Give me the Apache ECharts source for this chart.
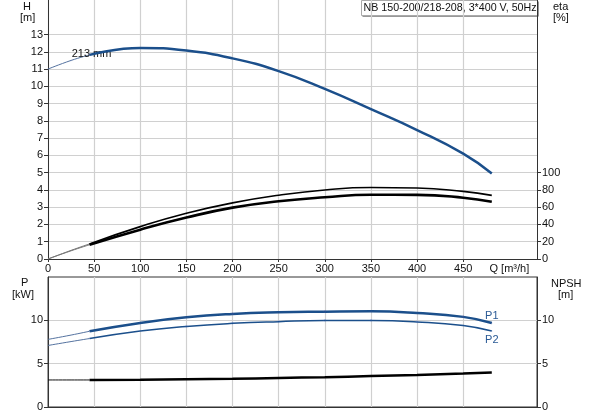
<!DOCTYPE html>
<html>
<head>
<meta charset="utf-8">
<script src="https://cdn.jsdelivr.net/npm/echarts@6/dist/echarts.min.js"></script>
<style>
html,body{margin:0;padding:0;background:#fff;}
#chart{width:593px;height:415px;}
</style>
</head>
<body>
<div id="chart"></div>
<script>
// Flow rate Q [m³/h]
const flow = [0, 25, 45, 100, 150, 200, 250, 300, 350, 400, 450, 481];
// Index where the operating (thick) range starts
const opStart = 2;
// Head H [m], impeller 213 mm
const head = [11.0, 11.5, 11.82, 12.22, 12.07, 11.62, 10.88, 9.85, 8.68, 7.47, 6.1, 4.95];
// Efficiencies [%]
const etaUpper = [0, 10, 17.5, 37.5, 53, 65, 73.8, 80, 82.8, 82.3, 78.3, 73.7];
const etaLower = [0, 9.5, 16.5, 34, 48, 59.5, 66.8, 71.5, 74.5, 74.3, 71, 66.3];
// Power [kW]
const p1 = [7.8, 8.3, 8.74, 9.7, 10.35, 10.74, 10.93, 11.0, 11.04, 10.85, 10.4, 9.7];
const p2 = [7.1, 7.55, 7.9, 8.77, 9.3, 9.65, 9.85, 9.97, 9.97, 9.82, 9.4, 8.77];
// NPSH [m]
const npsh = [3.12, 3.12, 3.12, 3.15, 3.2, 3.25, 3.35, 3.44, 3.57, 3.7, 3.86, 3.97];
// Tick labels
const qTicks = [0, 50, 100, 150, 200, 250, 300, 350, 400, 450];
const hTicks = [0,1,2,3,4,5,6,7,8,9,10,11,12,13];
const etaTicks = [0, 20, 40, 60, 80, 100];
const pTicks = [0, 5, 10];
const npshTicks = [0, 5, 10];
const titleText = 'NB 150-200/218-208, 3*400 V, 50Hz';
const curveLabel = '213 mm';

const BLUE = '#1b4f8b';
const THIN_BLUE = '#5573a0';
const GRID = '#d0d0d0';
const AXIS = '#333';
const FONT = 'Liberation Sans, Arial, sans-serif';

function pts(arr, from, to) {
  const out = [];
  for (let i = from; i <= to; i++) out.push([flow[i], arr[i]]);
  return out;
}
const last = flow.length - 1;

function lineSeries(name, arr, xi, yi, color, width, thinColor) {
  return [
    {
      type: 'line', name: name + '_ext', xAxisIndex: xi, yAxisIndex: yi,
      data: pts(arr, 0, opStart), smooth: 0.5, showSymbol: false, silent: true,
      lineStyle: { color: thinColor, width: 1 }, z: 3
    },
    {
      type: 'line', name: name, xAxisIndex: xi, yAxisIndex: yi,
      data: pts(arr, opStart, last), smooth: 0.5, showSymbol: false, silent: true,
      lineStyle: { color: color, width: width }, z: 4
    }
  ];
}

const series = [];
// Head curve
const hExt = lineSeries('H', head, 0, 0, BLUE, 2.5, THIN_BLUE);
hExt[0].showSymbol = true;
hExt[0].symbolSize = 0.1;
hExt[0].data = hExt[0].data.map((p, i) => i === opStart ? {
  value: p,
  label: { show: true, formatter: curveLabel, position: 'inside', color: '#111', fontSize: 11, fontFamily: FONT, offset: [2, -1] }
} : p);
series.push(...hExt);
// Efficiency curves
series.push(...lineSeries('eta1', etaUpper, 0, 1, '#000', 1.6, '#777'));
series.push(...lineSeries('eta2', etaLower, 0, 1, '#000', 2.6, '#777'));
// Power curves
const s1 = lineSeries('P1', p1, 1, 2, BLUE, 2.5, THIN_BLUE);
const s2 = lineSeries('P2', p2, 1, 2, BLUE, 1.5, THIN_BLUE);
function endLabel(s, text, pos, dist) {
  s.showSymbol = true;
  s.symbolSize = 0.1;
  const n = s.data.length - 1;
  s.data = s.data.map((p, i) => i === n ? {
    value: p,
    label: { show: true, formatter: text, position: pos, distance: dist, color: '#2a5a95', fontSize: 11, fontFamily: FONT }
  } : p);
}
endLabel(s1[1], 'P1', 'top', 0);
endLabel(s2[1], 'P2', 'bottom', 2);
series.push(...s1, ...s2);
// NPSH
series.push(...lineSeries('NPSH', npsh, 1, 3, '#000', 2.5, '#111'));

function xAx(gi, showLabels) {
  return {
    type: 'value', gridIndex: gi, min: 0, max: 530, interval: 50,
    axisLine: { show: true, onZero: false, lineStyle: { color: AXIS, width: 1 } },
    axisTick: { show: showLabels, length: 3, lineStyle: { color: AXIS }, customValues: qTicks },
    splitLine: { show: true, lineStyle: { color: GRID, width: 1.2 } },
    axisLabel: {
      show: showLabels, color: '#111', fontSize: 11, fontFamily: FONT, margin: 4,
      customValues: qTicks.concat([500]),
      formatter: v => v === 500 ? 'Q [m³/h]' : String(v)
    }
  };
}
function yAx(gi, pos, max, interval, ticks, split) {
  return {
    type: 'value', gridIndex: gi, position: pos, min: 0, max: max, interval: interval,
    axisLine: { show: true, onZero: false, lineStyle: { color: AXIS, width: 1 } },
    axisTick: { show: true, length: 4, lineStyle: { color: AXIS }, customValues: ticks },
    axisLabel: { color: '#111', fontSize: 11, fontFamily: FONT, margin: 5, customValues: ticks },
    splitLine: { show: split, lineStyle: { color: GRID, width: 1.2 } }
  };
}

function txt(x, y, t) {
  return { type: 'text', left: x, top: y, silent: true,
    style: { text: t, fill: '#111', font: '11px ' + FONT } };
}

const option = {
  animation: false,
  backgroundColor: '#fff',
  grid: [
    { left: 48, right: 56, top: 0, height: 259, containLabel: false },
    { left: 48, right: 56, top: 277, height: 130, containLabel: false, show: true, borderColor: AXIS, borderWidth: 1, backgroundColor: 'transparent' }
  ],
  xAxis: [xAx(0, true), xAx(1, false)],
  yAxis: [
    yAx(0, 'left', 15, 1, hTicks, true),
    yAx(0, 'right', 300, 20, etaTicks, false),
    yAx(1, 'left', 15, 5, pTicks, true),
    yAx(1, 'right', 15, 5, npshTicks, false)
  ],
  graphic: [
    txt(23, 1, 'H'), txt(20, 12, '[m]'),
    txt(553, 1, 'eta'), txt(553, 12, '[%]'),
    txt(21, 277, 'P'), txt(12, 289, '[kW]'),
    txt(551, 278, 'NPSH'), txt(558, 289, '[m]'),
    {
      type: 'group', left: 361, top: 0, silent: true, z: 100,
      children: [
        { type: 'rect', shape: { x: 1, y: 1, width: 176, height: 15 }, style: { fill: '#333' } },
        { type: 'rect', shape: { x: 0, y: 0, width: 176, height: 15 }, style: { fill: '#fff', stroke: '#aaa', lineWidth: 1 } },
        { type: 'text', x: 2, y: 2, style: { text: titleText, fill: '#111', font: '10.7px ' + FONT } }
      ]
    }
  ],
  series: series
};

const chart = echarts.init(document.getElementById('chart'), null, { renderer: 'canvas' });
chart.setOption(option);
</script>
</body>
</html>
